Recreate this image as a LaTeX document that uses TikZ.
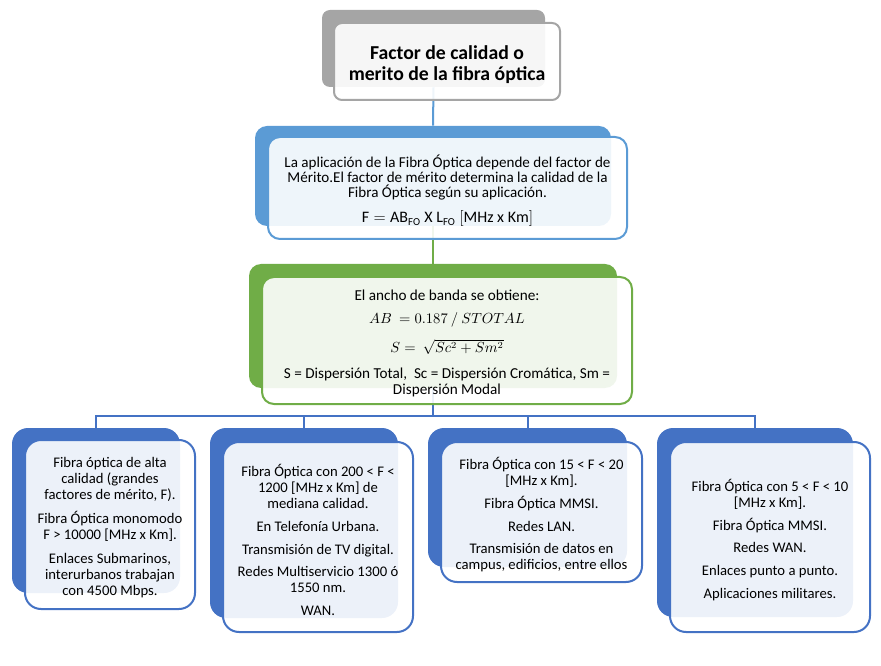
\documentclass[tikz,border=0pt]{standalone}
\usepackage{fontspec}
\setmainfont{Carlito}
\usepackage{amsmath}
\usetikzlibrary{fit}

\definecolor{gris}{HTML}{A5A5A5}
\definecolor{azulclaro}{HTML}{5B9BD5}
\definecolor{verde}{HTML}{70AD47}
\definecolor{azul}{HTML}{4472C4}

\begin{document}
\begin{tikzpicture}[x=0.75pt,y=-0.75pt,
	fondo/.style={fill=#1, rounded corners=9pt, inner sep=0pt},
	frente/.style={draw=#1, line width=1.5pt, fill=white, fill opacity=0.9,
		rounded corners=9pt, inner sep=0pt},
	contenido/.style={align=center, inner sep=0pt, yshift=-2.25pt},
	enlace/.style={draw=#1, line width=1.5pt},
	texto/.style={font=\fontsize{11}{12}\selectfont}]
		\useasboundingbox (0,0) rectangle (881,666);
		% cajas de fondo
		\node [fondo=gris, rounded corners=6pt, fit={(322,10) (545,87)}] (tituloB) {};
		\node [fondo=azulclaro, fit={(255,126) (611,226)}] (aplicB) {};
		\node [fondo=verde, fit={(249,264) (617,388)}] (anchoB) {};
		\node [fondo=azul, rounded corners=12pt, fit={(12,428) (180,593)}] (altaB) {};
		\node [fondo=azul, rounded corners=12pt, fit={(210,428) (398,618)}] (mediaB) {};
		\node [fondo=azul, rounded corners=12pt, fit={(428,428) (627,567)}] (lanB) {};
		\node [fondo=azul, rounded corners=12pt, fit={(657,428) (853,617)}] (wanB) {};
		% conectores
		\draw [enlace=azulclaro] (tituloB.south) -- (aplicB.north);
		\draw [enlace=verde] (aplicB.south) -- (anchoB.north);
		\coordinate (barra) at (433,416);
		\draw [enlace=azul] (anchoB.south) -- (barra);
		\foreach \n in {altaB,mediaB,lanB,wanB}
			\draw [enlace=azul] (barra) -| (\n.north);
		% cajas delanteras
		\node [frente=gris, rounded corners=6pt, fit={(334,23) (560,100)}] (titulo) {};
		\node [frente=azulclaro, fit={(268,137) (627,239)}] (aplic) {};
		\node [frente=verde, fit={(262,277) (632,404)}] (ancho) {};
		\node [frente=azul, rounded corners=12pt, fit={(25,440) (195,609)}] (alta) {};
		\node [frente=azul, rounded corners=12pt, fit={(223,442) (413,632)}] (media) {};
		\node [frente=azul, rounded corners=12pt, fit={(441,442) (642,582)}] (lan) {};
		\node [frente=azul, rounded corners=12pt, fit={(670,442) (870,632)}] (wan) {};
		% textos
		\node [contenido, font=\fontsize{14.8}{15.75}\selectfont\bfseries] (tituloT) at (titulo.center)
			{Factor de calidad o\\merito de la fibra óptica};
		\node [contenido, font=\fontsize{11.3}{11}\selectfont] (aplicT) at (aplic.center)
			{La aplicación de la Fibra Óptica depende del factor de\\
			Mérito.El factor de mérito determina la calidad de la\\
			Fibra Óptica según su aplicación.\\[8pt]
			{\fontsize{12}{14}\selectfont$\mathrm{F = AB_{FO}\ X\ L_{FO}\ [MHz\ x\ Km]}$}};
		\node [contenido, font=\fontsize{11.4}{12}\selectfont] (anchoT) at (ancho.center)
			{El ancho de banda se obtiene:\\[5pt]
			{\fontsize{10.5}{12}\selectfont$AB\ = 0.187\ /\ STOTAL$}\\[8pt]
			{\fontsize{10.5}{12}\selectfont$S =\ \sqrt{Sc^2 + Sm^2}$}\\[7.5pt]
			S = Dispersión Total,\ \ Sc = Dispersión Cromática, Sm =\\
			Dispersión Modal};
		\node [contenido, texto] (altaT) at (alta.center)
			{Fibra óptica de alta\\calidad (grandes\\factores de mérito, F).\\[6pt]
			Fibra Óptica monomodo\\F > 10000 [MHz x Km].\\[6pt]
			Enlaces Submarinos,\\interurbanos trabajan\\con 4500 Mbps.};
		\node [contenido, texto] (mediaT) at (media.center)
			{Fibra Óptica con 200 < F <\\1200 [MHz x Km] de\\mediana calidad.\\[5pt]
			En Telefonía Urbana.\\[5pt]
			Transmisión de TV digital.\\[5pt]
			Redes Multiservicio 1300 ó\\1550 nm.\\[5pt]
			WAN.};
		\node [contenido, texto] (lanT) at (lan.center)
			{Fibra Óptica con 15 < F < 20\\{}[MHz x Km].\\[5pt]
			Fibra Óptica MMSI.\\[5pt]
			Redes LAN.\\[5pt]
			Transmisión de datos en\\campus, edificios, entre ellos};
		\node [contenido, texto] (wanT) at (wan.center)
			{Fibra Óptica con 5 < F < 10\\{}[MHz x Km].\\[5pt]
			Fibra Óptica MMSI.\\[5pt]
			Redes WAN.\\[5pt]
			Enlaces punto a punto.\\[5pt]
			Aplicaciones militares.};
\end{tikzpicture}
\end{document}
